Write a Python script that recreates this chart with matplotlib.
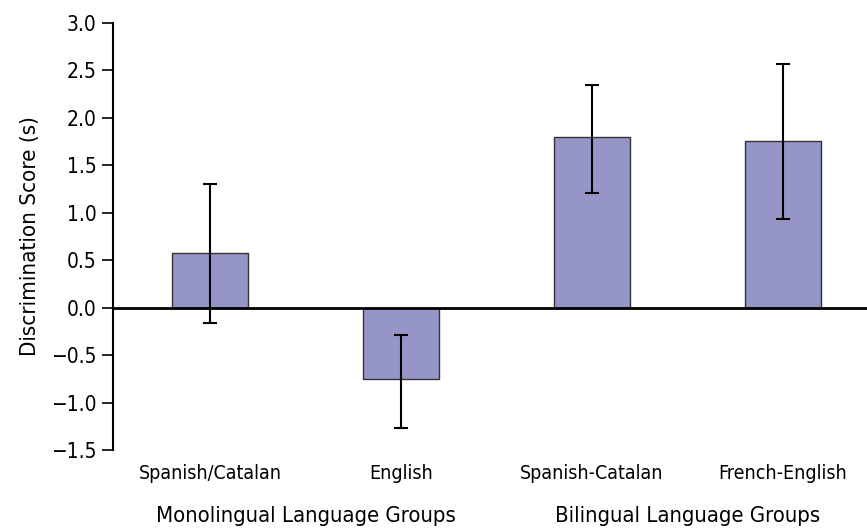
import matplotlib
matplotlib.use("Agg")
import matplotlib.pyplot as plt
import matplotlib.transforms as mtransforms

categories = ["Spanish/Catalan", "English", "Spanish-Catalan", "French-English"]
means = [0.58, -0.75, 1.80, 1.76]
err_lower = [0.74, 0.52, 0.59, 0.83]
err_upper = [0.72, 0.46, 0.55, 0.81]
groups = ["Monolingual Language Groups", "Bilingual Language Groups"]
yticks = [-1.5, -1.0, -0.5, 0.0, 0.5, 1.0, 1.5, 2.0, 2.5, 3.0]
ytick_labels = ["\u22121.5", "\u22121.0", "\u22120.5", "0.0", "0.5", "1.0", "1.5", "2.0", "2.5", "3.0"]

plt.rcParams['font.family'] = ['DejaVu Sans']
plt.rcParams['font.stretch'] = 'condensed'

fig = plt.figure(figsize=(8.67, 5.31), dpi=100)
ax = fig.add_axes([113/867, 81/531, 1 - 113/867, (450-23)/531])

x = list(range(len(categories)))
ax.bar(x, means, width=0.4, color="#9595C8", edgecolor="#333333", linewidth=1.0, zorder=2)
ax.errorbar(x, means, yerr=[err_lower, err_upper], fmt="none", ecolor="black",
            elinewidth=1.5, capsize=5, capthick=1.5, zorder=3)
ax.axhline(0, color="black", linewidth=2.0, zorder=4)

ax.set_xlim(-0.508, 3.44)
ax.set_ylim(-1.5, 3.0)
ax.set_yticks(yticks)
ax.set_yticklabels(ytick_labels, fontsize=15, fontstretch='condensed')
ax.set_xticks(x)
ax.set_xticklabels(categories, fontsize=14, fontstretch='condensed')
ax.tick_params(axis="x", length=0, pad=10)
ax.tick_params(axis="y", length=8, width=1.2, direction="out", pad=4)

for s in ["top", "right", "bottom"]:
    ax.spines[s].set_visible(False)
ax.spines["left"].set_linewidth(1.5)

ax.set_ylabel("Discrimination Score (s)", fontsize=16, fontstretch='condensed', labelpad=8)

trans = mtransforms.blended_transform_factory(ax.transData, fig.transFigure)
ax.text(0.5, 15/531, groups[0], transform=trans, ha="center", va="center", fontsize=15.8, fontstretch='condensed')
ax.text(2.5, 15/531, groups[1], transform=trans, ha="center", va="center", fontsize=15.8, fontstretch='condensed')

fig.savefig("out.png", dpi=100)
